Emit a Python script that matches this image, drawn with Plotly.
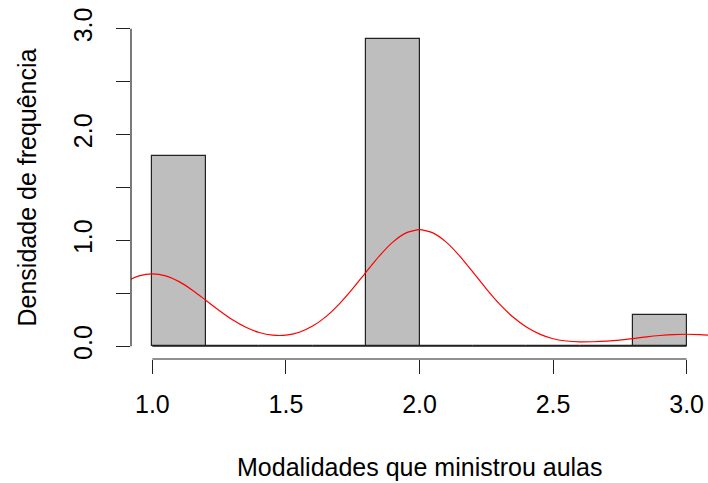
import plotly.graph_objects as go

# Histogram (density scale), bins of width 0.2 from 1.0 to 3.0
bin_edges = [1.0, 1.2, 1.4, 1.6, 1.8, 2.0, 2.2, 2.4, 2.6, 2.8, 3.0]
densities = [1.8, 0.0, 0.0, 0.0, 2.9, 0.0, 0.0, 0.0, 0.0, 0.3]

# Kernel density curve
curve_x = [0.90, 0.95, 1.00, 1.05, 1.10, 1.15, 1.20, 1.25, 1.30, 1.35, 1.40,
           1.45, 1.50, 1.55, 1.60, 1.65, 1.70, 1.75, 1.80, 1.85, 1.90, 1.95,
           2.00, 2.05, 2.10, 2.15, 2.20, 2.25, 2.30, 2.35, 2.40, 2.45, 2.50,
           2.55, 2.60, 2.65, 2.70, 2.75, 2.80, 2.85, 2.90, 2.95, 3.00, 3.05, 3.10]
curve_y = [0.611, 0.665, 0.684, 0.665, 0.611, 0.530, 0.435, 0.339, 0.251, 0.180, 0.130,
           0.105, 0.105, 0.133, 0.191, 0.280, 0.400, 0.544, 0.701, 0.854, 0.984, 1.071,
           1.102, 1.071, 0.984, 0.854, 0.700, 0.543, 0.398, 0.276, 0.182, 0.115, 0.071,
           0.050, 0.042, 0.043, 0.048, 0.058, 0.073, 0.089, 0.102, 0.111, 0.114, 0.111, 0.102]

x_ticks = [1.0, 1.5, 2.0, 2.5, 3.0]
x_ticklabels = ["1.0", "1.5", "2.0", "2.5", "3.0"]
y_ticks = [0.0, 0.5, 1.0, 1.5, 2.0, 2.5, 3.0]
y_ticklabels = ["0.0", "", "1.0", "", "2.0", "", "3.0"]

x_title = "Modalidades que ministrou aulas"
y_title = "Densidade de frequência"

FONT = "Liberation Sans, Arial, sans-serif"
FS = 25
LINE = "#222222"

centers = [(a + b) / 2 for a, b in zip(bin_edges[:-1], bin_edges[1:])]
widths = [b - a for a, b in zip(bin_edges[:-1], bin_edges[1:])]

fig = go.Figure()
fig.add_trace(go.Bar(
    x=centers, y=densities, width=widths,
    marker=dict(color="#BEBEBE", line=dict(color=LINE, width=1.2)),
    hoverinfo="skip",
))
fig.add_trace(go.Scatter(
    x=curve_x, y=curve_y, mode="lines",
    line=dict(color="#FF0000", width=1.2, shape="spline", smoothing=0.6),
    hoverinfo="skip",
))

xr = [bin_edges[0] - 0.04 * (bin_edges[-1] - bin_edges[0]),
      bin_edges[-1] + 0.04 * (bin_edges[-1] - bin_edges[0])]
yr = [y_ticks[0] - 0.04 * (y_ticks[-1] - y_ticks[0]),
      y_ticks[-1] + 0.04 * (y_ticks[-1] - y_ticks[0])]

shapes = [
    # baseline under the bars
    dict(type="line", xref="x", yref="y", x0=bin_edges[0], x1=bin_edges[-1],
         y0=0, y1=0, line=dict(color=LINE, width=1), layer="below"),
    # x axis line (spans first to last tick)
    dict(type="line", xref="x", yref="paper", x0=x_ticks[0], x1=x_ticks[-1],
         y0=0, y1=0, line=dict(color=LINE, width=1.2)),
    # y axis line
    dict(type="line", xref="paper", yref="y", x0=0, x1=0,
         y0=y_ticks[0], y1=y_ticks[-1], line=dict(color=LINE, width=1.2)),
]

fig.update_layout(
    width=708, height=483,
    margin=dict(l=131, r=0, t=16, b=124, pad=0),
    paper_bgcolor="white", plot_bgcolor="white",
    showlegend=False, bargap=0, hovermode=False,
    font=dict(family=FONT, size=FS, color="black"),
    shapes=shapes,
    xaxis=dict(range=xr, showgrid=False, zeroline=False, showline=False,
               tickmode="array", tickvals=x_ticks, ticktext=x_ticklabels,
               ticks="outside", ticklen=14, tickwidth=1.2, tickcolor=LINE,
               ticklabelstandoff=9,
               tickfont=dict(family=FONT, size=FS, color="black")),
    yaxis=dict(range=yr, showgrid=False, zeroline=False, showline=False,
               tickmode="array", tickvals=y_ticks, ticktext=y_ticklabels,
               ticks="outside", ticklen=14, tickwidth=1.2, tickcolor=LINE,
               tickangle=-90, ticklabelstandoff=14,
               tickfont=dict(family=FONT, size=FS, color="black")),
    annotations=[
        dict(text=x_title, xref="paper", yref="paper", x=0.5, y=0,
             xanchor="center", yanchor="middle", yshift=-108, showarrow=False,
             font=dict(family=FONT, size=FS, color="black")),
        dict(text=y_title, xref="paper", yref="paper", x=0, y=0.5,
             xanchor="center", yanchor="middle", xshift=-105, textangle=-90,
             showarrow=False, font=dict(family=FONT, size=FS, color="black")),
    ],
)

fig.write_html("out.html")
